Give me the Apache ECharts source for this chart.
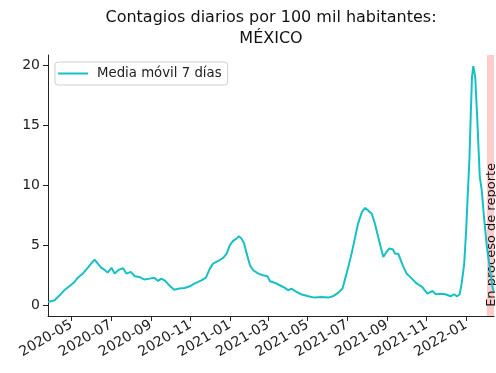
<!DOCTYPE html>
<html>
<head>
<meta charset="utf-8">
<script src="https://cdn.jsdelivr.net/npm/echarts@6/dist/echarts.min.js"></script>
<style>
  html, body { margin: 0; padding: 0; background: #fff; }
  #chart { width: 496px; height: 373px; }
</style>
</head>
<body>
<div id="chart"></div>
<script>
// Daily COVID-19 cases per 100k inhabitants, Mexico (7-day moving average)
const dates = [
  '2020-03-26','2020-04-05','2020-04-13','2020-04-21','2020-04-28','2020-05-06','2020-05-11','2020-05-19',
  '2020-05-27','2020-06-01','2020-06-06','2020-06-11','2020-06-16','2020-06-21','2020-06-26','2020-07-02',
  '2020-07-07','2020-07-14','2020-07-20','2020-07-25','2020-08-01','2020-08-07','2020-08-14','2020-08-22',
  '2020-08-30','2020-09-06','2020-09-12','2020-09-17','2020-09-22','2020-09-27','2020-10-02','2020-10-07',
  '2020-10-15','2020-10-23','2020-10-31','2020-11-07','2020-11-18','2020-11-25','2020-12-01','2020-12-06',
  '2020-12-14','2020-12-22','2020-12-27','2021-01-01','2021-01-06','2021-01-11','2021-01-15','2021-01-19',
  '2021-01-23','2021-01-27','2021-02-01','2021-02-06','2021-02-14','2021-02-21','2021-02-28','2021-03-04',
  '2021-03-12','2021-03-19','2021-03-27','2021-04-01','2021-04-06','2021-04-14','2021-04-21','2021-05-02',
  '2021-05-12','2021-05-22','2021-06-02','2021-06-09','2021-06-17','2021-06-24','2021-06-28','2021-07-03',
  '2021-07-08','2021-07-13','2021-07-18','2021-07-24','2021-07-29','2021-08-03','2021-08-08','2021-08-13',
  '2021-08-18','2021-08-22','2021-08-26','2021-08-31','2021-09-04','2021-09-10','2021-09-13','2021-09-18',
  '2021-09-21','2021-09-26','2021-10-01','2021-10-09','2021-10-17','2021-10-25','2021-11-02','2021-11-10',
  '2021-11-15','2021-11-23','2021-11-30','2021-12-08','2021-12-13','2021-12-18','2021-12-22','2021-12-25',
  '2021-12-29','2022-01-01','2022-01-04','2022-01-06','2022-01-08','2022-01-10','2022-01-12','2022-01-15',
  '2022-01-18','2022-01-22','2022-01-25','2022-01-29','2022-02-02','2022-02-07','2022-02-11','2022-02-13'
];
const movingAvg = [
  0.28, 0.42, 0.83, 1.30, 1.58, 1.94, 2.30, 2.65,
  3.15, 3.50, 3.80, 3.47, 3.14, 2.97, 2.72, 3.12,
  2.64, 2.97, 3.08, 2.64, 2.78, 2.42, 2.36, 2.14,
  2.22, 2.30, 2.03, 2.22, 2.08, 1.80, 1.53, 1.30,
  1.39, 1.44, 1.58, 1.80, 2.08, 2.30, 3.05, 3.47,
  3.69, 3.97, 4.30, 5.00, 5.36, 5.55, 5.75, 5.55,
  5.14, 4.30, 3.33, 2.92, 2.64, 2.50, 2.42, 2.00,
  1.86, 1.67, 1.45, 1.25, 1.39, 1.11, 0.92, 0.75,
  0.64, 0.69, 0.64, 0.75, 1.03, 1.40, 2.20, 3.20,
  4.30, 5.55, 6.80, 7.78, 8.10, 7.86, 7.64, 6.80,
  5.70, 4.86, 4.03, 4.44, 4.72, 4.64, 4.30, 4.30,
  3.89, 3.20, 2.64, 2.22, 1.80, 1.53, 0.97, 1.19,
  0.92, 0.97, 0.92, 0.75, 0.92, 0.75, 0.92, 1.80,
  3.47, 6.25, 9.86, 12.1, 15.7, 19.0, 19.9, 19.0,
  15.7, 10.7, 9.60, 7.08, 4.86, 2.90, 1.39, 1.20
];
// Axis range, tick labels and the still-being-reported window
const xRange = ['2020-03-26', '2022-02-13'];
const xTickLabels = ['2020-05','2020-07','2020-09','2020-11','2021-01','2021-03',
                     '2021-05','2021-07','2021-09','2021-11','2022-01'];
const yRange = [-0.89, 20.83];
const yTickLabels = [0, 5, 10, 15, 20];
const pendingSpan = ['2022-02-02', '2022-02-13'];
const pendingLabel = 'En proceso de reporte';
const seriesName = 'Media móvil 7 días';
const titleText = 'Contagios diarios por 100 mil habitantes:\nMÉXICO';

// Dates are handled as UTC millisecond timestamps on a numeric axis
function ts(s) {
  const p = s.split('-').map(Number);
  return Date.UTC(p[0], p[1] - 1, p[2] || 1);
}
function fmtMonth(v) {
  const d = new Date(v);
  const m = d.getUTCMonth() + 1;
  return d.getUTCFullYear() + '-' + (m < 10 ? '0' + m : m);
}

const seriesData = dates.map((d, i) => [ts(d), movingAvg[i]]);
const xTicks = xTickLabels.map(ts);
const FONT = 'DejaVu Sans';

const chart = echarts.init(document.getElementById('chart'), null, { renderer: 'canvas' });
chart.setOption({
  animation: false,
  backgroundColor: '#ffffff',
  title: {
    text: titleText,
    left: 271,
    top: 7,
    textAlign: 'center',
    padding: 0,
    textStyle: { fontFamily: FONT, fontSize: 16, fontWeight: 'normal', color: '#111', lineHeight: 21 }
  },
  legend: {
    left: 55,
    top: 62,
    padding: [5, 6, 5, 3],
    itemWidth: 30,
    itemHeight: 14,
    itemGap: 10,
    borderColor: '#d0d0d0',
    borderWidth: 1,
    borderRadius: 3,
    textStyle: { fontFamily: FONT, fontSize: 13.3, color: '#222', padding: [0, 0, 0, 4] },
    data: [{ name: seriesName, icon: 'path://M0,6 L30,6 L30,8 L0,8 Z' }]
  },
  grid: { left: 48, right: 2, top: 55, bottom: 57, containLabel: false },
  xAxis: {
    type: 'value',
    min: ts(xRange[0]),
    max: ts(xRange[1]),
    axisLine: { show: true, onZero: false, lineStyle: { color: '#222', width: 1 } },
    axisTick: { show: true, length: 5, lineStyle: { color: '#222' }, customValues: xTicks },
    axisLabel: {
      customValues: xTicks,
      formatter: fmtMonth,
      rotate: 30,
      margin: 8,
      fontFamily: FONT,
      fontSize: 14,
      color: '#222',
      hideOverlap: false
    },
    splitLine: { show: false }
  },
  yAxis: {
    type: 'value',
    min: yRange[0],
    max: yRange[1],
    axisLine: { show: true, onZero: false, lineStyle: { color: '#222', width: 1 } },
    axisTick: { show: true, length: 5, lineStyle: { color: '#222' }, customValues: yTickLabels },
    axisLabel: {
      customValues: yTickLabels,
      margin: 8,
      fontFamily: FONT,
      fontSize: 14,
      color: '#222'
    },
    splitLine: { show: false }
  },
  series: [{
    name: seriesName,
    type: 'line',
    data: seriesData,
    symbol: 'none',
    smooth: false,
    color: '#17c0c4',
    lineStyle: { width: 2, color: '#17c0c4' },
    markArea: {
      silent: true,
      itemStyle: { color: 'rgba(255, 0, 0, 0.2)' },
      label: {
        show: true,
        position: ['70%', '96.5%'],
        rotate: 90,
        align: 'left',
        verticalAlign: 'middle',
        fontFamily: FONT,
        fontSize: 13,
        color: '#111',
        formatter: pendingLabel
      },
      data: [[{ xAxis: ts(pendingSpan[0]) }, { xAxis: ts(pendingSpan[1]) }]]
    }
  }]
});
</script>
</body>
</html>
